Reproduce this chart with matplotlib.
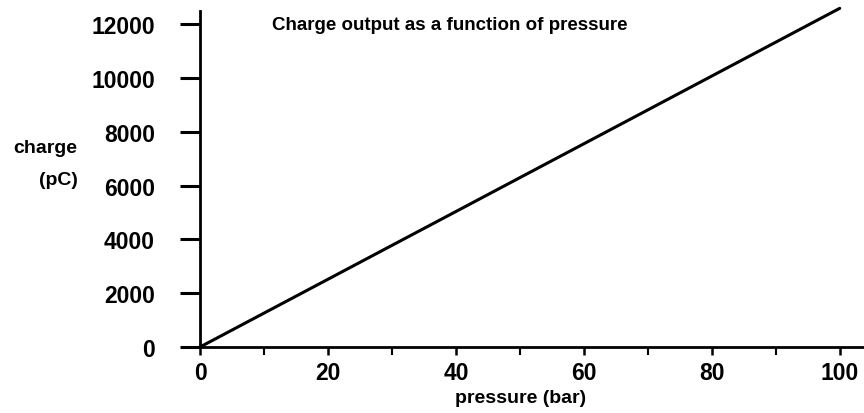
import matplotlib.pyplot as plt
from matplotlib.ticker import MultipleLocator

# data
pressure_bar = [0, 100]
charge_pc = [0, 12600]
x_ticks = [0, 20, 40, 60, 80, 100]
y_ticks = [0, 2000, 4000, 6000, 8000, 10000, 12000]

plt.rcParams['font.family'] = ['Liberation Sans', 'DejaVu Sans']
plt.rcParams['font.weight'] = 'bold'

fig = plt.figure(figsize=(8.64, 4.14), dpi=100)
ax = fig.add_axes([0.2315, 0.1594, 0.770, 0.8116])

ax.plot(pressure_bar, charge_pc, color='black', lw=2.2, clip_on=False,
        solid_capstyle='round')

ax.set_xlim(0, 104)
ax.set_ylim(0, 12500)
ax.set_xticks(x_ticks)
ax.set_yticks(y_ticks)
ax.xaxis.set_minor_locator(MultipleLocator(10))

for side in ['top', 'right']:
    ax.spines[side].set_visible(False)
for side in ['left', 'bottom']:
    ax.spines[side].set_linewidth(2)

ax.tick_params(axis='y', direction='out', length=14.5, width=2.2, labelsize=16.5, pad=18)
ax.tick_params(axis='x', which='major', direction='out', length=6, width=1.8,
               labelsize=16.5, pad=4)
ax.tick_params(axis='x', which='minor', direction='out', length=6, width=1.5)

fig.text(0.3148, 0.9396, 'Charge output as a function of pressure',
         fontsize=13.5, fontweight='bold', va='center', ha='left')

fig.text(0.052, 0.6425, 'charge', fontsize=14, fontweight='bold', ha='center', va='center')
fig.text(0.068, 0.563, '(pC)', fontsize=14, fontweight='bold', ha='center', va='center')
fig.text(0.603, 0.0386, 'pressure (bar)', fontsize=14, fontweight='bold',
         ha='center', va='center')

fig.savefig('out.png', dpi=100)
